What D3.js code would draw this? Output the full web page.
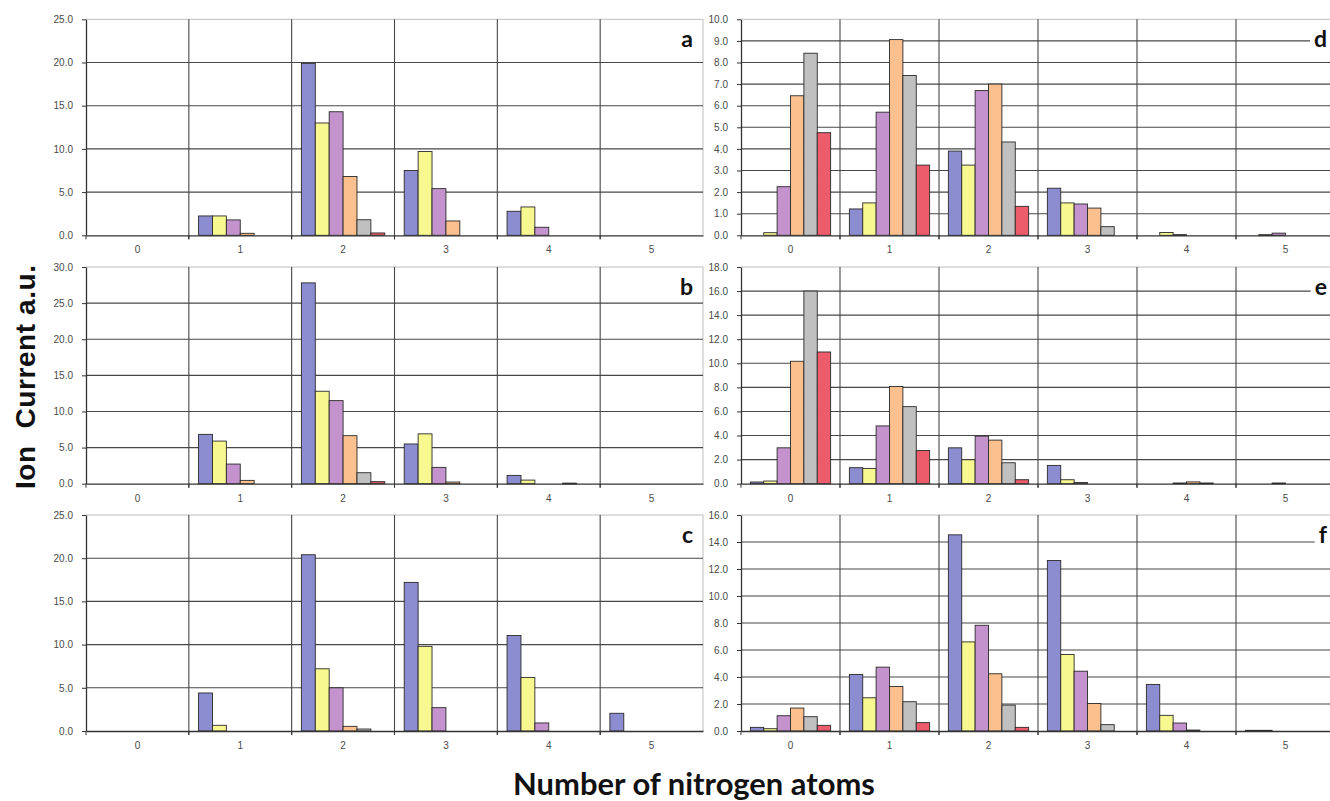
<!DOCTYPE html>
<html><head><meta charset="utf-8">
<script src="https://cdn.jsdelivr.net/npm/d3@7"></script>
<style>body{margin:0;background:#fff}svg{display:block}</style>
</head><body>
<svg id="chart" width="1330" height="801"></svg>
<script>
// ---- data ----
const categories = ["0", "1", "2", "3", "4", "5"];
const seriesColors = ["#8c8cd0", "#f8f890", "#c492cc", "#fcc08e", "#c0c0c0", "#ec5c6a"];
const panelLetters = ["a", "b", "c", "d", "e", "f"];

// each panel: 6 series, values per category 0..5
const panelA = [
  [0, 2.24, 19.9, 7.5, 2.78, 0],
  [0, 2.24, 13.0, 9.7, 3.28, 0],
  [0, 1.78, 14.3, 5.4, 0.93, 0],
  [0, 0.23, 6.8, 1.66, 0, 0],
  [0, 0, 1.8, 0, 0, 0],
  [0, 0, 0.27, 0, 0, 0]
];
const panelB = [
  [0, 6.83, 27.8, 5.5, 1.15, 0],
  [0, 5.9, 12.8, 6.9, 0.5, 0],
  [0, 2.72, 11.5, 2.26, 0, 0],
  [0, 0.46, 6.65, 0.23, 0, 0],
  [0, 0, 1.52, 0, 0.08, 0],
  [0, 0, 0.28, 0, 0, 0]
];
const panelC = [
  [0, 4.4, 20.4, 17.2, 11.05, 2.05],
  [0, 0.66, 7.2, 9.8, 6.2, 0],
  [0, 0, 5.0, 2.7, 0.93, 0],
  [0, 0, 0.54, 0, 0, 0],
  [0, 0, 0.23, 0, 0, 0],
  [0, 0, 0, 0, 0, 0]
];
const panelD = [
  [0, 1.22, 3.9, 2.18, 0, 0],
  [0.12, 1.5, 3.25, 1.5, 0.13, 0.03],
  [2.25, 5.7, 6.7, 1.45, 0.03, 0.1],
  [6.46, 9.06, 7.0, 1.26, 0, 0],
  [8.43, 7.4, 4.32, 0.4, 0, 0],
  [4.75, 3.25, 1.34, 0, 0, 0]
];
const panelE = [
  [0.14, 1.33, 2.98, 1.52, 0, 0],
  [0.22, 1.27, 1.99, 0.33, 0, 0],
  [2.98, 4.8, 3.95, 0.1, 0.06, 0.06],
  [10.17, 8.07, 3.62, 0, 0.15, 0],
  [16.0, 6.4, 1.74, 0, 0.06, 0],
  [10.94, 2.76, 0.33, 0, 0, 0]
];
const panelF = [
  [0.27, 4.19, 14.53, 12.63, 3.45, 0.05],
  [0.17, 2.46, 6.6, 5.67, 1.16, 0.05],
  [1.13, 4.73, 7.83, 4.43, 0.59, 0],
  [1.7, 3.3, 4.24, 2.04, 0.07, 0],
  [1.06, 2.17, 1.92, 0.47, 0, 0],
  [0.42, 0.62, 0.27, 0, 0, 0]
];

const ticksA = [0, 5, 10, 15, 20, 25];
const ticksB = [0, 5, 10, 15, 20, 25, 30];
const ticksC = [0, 5, 10, 15, 20, 25];
const ticksD = [0, 1, 2, 3, 4, 5, 6, 7, 8, 9, 10];
const ticksE = [0, 2, 4, 6, 8, 10, 12, 14, 16, 18];
const ticksF = [0, 2, 4, 6, 8, 10, 12, 14, 16];

const yTitle = "Ion\u00a0\u00a0Current a.u.";
const xTitle = "Number of nitrogen atoms";

// ---- layout ----
const svg = d3.select("#chart");
const leftX = [86, 703], rightX = [741, 1335];
const rows = [[19.3, 235.3], [267, 483.7], [515, 731]];
const panels = [
  {letter: panelLetters[0], data: panelA, ticks: ticksA, xr: leftX, yr: rows[0]},
  {letter: panelLetters[1], data: panelB, ticks: ticksB, xr: leftX, yr: rows[1]},
  {letter: panelLetters[2], data: panelC, ticks: ticksC, xr: leftX, yr: rows[2]},
  {letter: panelLetters[3], data: panelD, ticks: ticksD, xr: rightX, yr: rows[0]},
  {letter: panelLetters[4], data: panelE, ticks: ticksE, xr: rightX, yr: rows[1]},
  {letter: panelLetters[5], data: panelF, ticks: ticksF, xr: rightX, yr: rows[2]}
];
const fmt = d3.format(".1f");
const gridColor = "#474747";
const frameColor = "#bdbdbd";
const tickFont = "'Liberation Sans', Arial, sans-serif";

panels.forEach(p => {
  const [x0, x1] = p.xr, [top, bottom] = p.yr;
  const x = d3.scaleBand().domain(categories).range([x0, x1]);
  const xs = d3.scaleBand().domain(d3.range(seriesColors.length)).range([0, x.bandwidth()]).paddingOuter(0.7);
  const yMax = d3.max(p.ticks);
  const y = d3.scaleLinear().domain([0, yMax]).range([bottom, top]);
  const g = svg.append("g");

  // frame top / right
  g.append("line").attr("x1", x0).attr("x2", x1).attr("y1", y(yMax)).attr("y2", y(yMax))
    .attr("stroke", frameColor).attr("stroke-width", 1);
  g.append("line").attr("x1", x1).attr("x2", x1).attr("y1", top).attr("y2", bottom)
    .attr("stroke", frameColor).attr("stroke-width", 1);

  // horizontal gridlines
  g.selectAll("line.hg").data(p.ticks.filter(t => t > 0 && t < yMax)).join("line")
    .attr("class", "hg")
    .attr("x1", x0).attr("x2", x1)
    .attr("y1", d => y(d)).attr("y2", d => y(d))
    .attr("stroke", gridColor).attr("stroke-width", 1.1);

  // vertical gridlines at category boundaries (interior)
  g.selectAll("line.vg").data(categories.slice(1)).join("line")
    .attr("class", "vg")
    .attr("x1", d => x(d)).attr("x2", d => x(d))
    .attr("y1", top).attr("y2", bottom + 4)
    .attr("stroke", gridColor).attr("stroke-width", 1.1);

  // letter box + letter
  const lt = g.append("text").text(p.letter)
    .attr("x", Math.min(x1, 1330) - 3 - (x1 > 1330 ? 0 : 7))
    .attr("y", top + 28)
    .attr("text-anchor", "end")
    .attr("font-family", "Lato, 'Open Sans', sans-serif")
    .attr("font-weight", "bold")
    .attr("font-size", 23)
    .attr("fill", "#111");
  const bb = lt.node().getBBox();
  g.insert("rect", "text")
    .attr("x", bb.x - 4).attr("y", top + 1)
    .attr("width", x1 - (bb.x - 4) - 1).attr("height", 33)
    .attr("fill", "#fff");

  // bars
  const bars = [];
  p.data.forEach((vals, s) => vals.forEach((v, c) => { if (v > 0) bars.push({s, c: categories[c], v}); }));
  g.selectAll("rect.bar").data(bars).join("rect")
    .attr("class", "bar")
    .attr("x", d => x(d.c) + xs(d.s))
    .attr("width", xs.bandwidth())
    .attr("y", d => y(d.v))
    .attr("height", d => Math.max(0.8, bottom - y(d.v)))
    .attr("fill", d => seriesColors[d.s])
    .attr("stroke", "#2a2a2a").attr("stroke-width", 0.9);

  // y axis
  const ya = g.append("g").attr("transform", `translate(${x0},0)`)
    .call(d3.axisLeft(y).tickValues(p.ticks).tickFormat(fmt).tickSize(4).tickSizeOuter(0).tickPadding(9));
  ya.select(".domain").attr("stroke", "#333").attr("stroke-width", 1.3);
  ya.selectAll(".tick line").attr("stroke", "#333");
  ya.selectAll("text").attr("font-family", tickFont).attr("font-size", 10).attr("fill", "#4a4a4a");

  // x axis
  const xa = g.append("g").attr("transform", `translate(0,${bottom})`)
    .call(d3.axisBottom(x).tickSize(0).tickSizeOuter(0).tickPadding(11));
  xa.select(".domain").attr("stroke", "#333").attr("stroke-width", 1.3);
  xa.selectAll("text").attr("font-family", tickFont).attr("font-size", 10).attr("fill", "#4a4a4a");
  g.selectAll("line.xt").data(categories).join("line")
    .attr("class", "xt")
    .attr("x1", d => x(d)).attr("x2", d => x(d))
    .attr("y1", bottom).attr("y2", bottom + 4)
    .attr("stroke", "#333");
});

// titles
const yt = svg.append("text").text(yTitle)
  .attr("transform", "translate(35,377) rotate(-90)")
  .attr("text-anchor", "middle")
  .attr("font-family", "'Liberation Sans', Arial, sans-serif")
  .attr("font-weight", "bold")
  .attr("font-size", 28)
  .attr("fill", "#111");
const wy = yt.node().getComputedTextLength();
if (wy < 222) yt.attr("textLength", 224).attr("lengthAdjust", "spacing");

const xt = svg.append("text").text(xTitle)
  .attr("x", 694).attr("y", 795)
  .attr("text-anchor", "middle")
  .attr("font-family", "Lato, 'Open Sans', sans-serif")
  .attr("font-weight", "bold")
  .attr("font-size", 26)
  .attr("fill", "#111");
const w = xt.node().getComputedTextLength();
xt.attr("font-size", 26 * 362 / w);
</script>
</body></html>
